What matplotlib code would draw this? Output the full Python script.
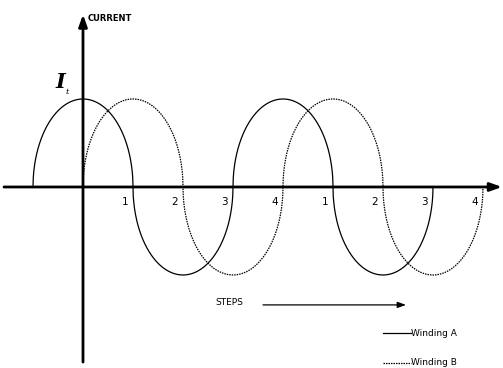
import numpy as np
import matplotlib
matplotlib.use("Agg")
import matplotlib.pyplot as plt

# winding currents, in step units (one step = quarter period)
windings = ["Winding A", "Winding B"]
start_steps = [-1, 0]
end_steps = [7, 8]
phase_steps = [0, 1]          # B lags A by one step
amplitude = 1.0
step_labels = ["1", "2", "3", "4", "1", "2", "3", "4"]
label_steps = [1, 2, 3, 4, 5, 6, 7, 8]

fig = plt.figure(figsize=(5.03, 3.68), dpi=100)
ax = fig.add_axes([0, 0, 1, 1])
ax.set_xlim(-1.66, 8.4)
ax.set_ylim(-2.057, 2.125)
ax.axis("off")

styles = [dict(color="black", lw=0.9, ls="-"),
          dict(color="black", lw=0.9, ls=(0, (1.2, 0.8)))]


def lobes(t, phase):
    # drawn as rounded half-ellipses, as in the sketch
    c = np.cos((t - phase) * np.pi / 2)
    u = ((t - phase + 1) % 2) - 1
    return np.sign(c) * amplitude * np.sqrt(np.clip(1 - u ** 2, 0, 1))


for i in range(len(windings)):
    t = np.linspace(start_steps[i], end_steps[i], 1601)
    ax.plot(t, lobes(t, phase_steps[i]), **styles[i])

# axes with arrows
ax.annotate("", xy=(8.38, 0), xytext=(-1.58, 0),
            arrowprops=dict(arrowstyle="-|>,head_length=0.7,head_width=0.25",
                            color="black", lw=2, shrinkA=0, shrinkB=0))
ax.annotate("", xy=(0, 1.96), xytext=(0, -1.99),
            arrowprops=dict(arrowstyle="-|>,head_length=0.7,head_width=0.25",
                            color="black", lw=2, shrinkA=0, shrinkB=0))

ax.text(0.1, 1.92, "CURRENT", fontsize=6, fontweight="bold", va="center", ha="left")
ax.text(-0.46, 1.19, "I", fontsize=15, family="DejaVu Serif", style="italic",
        fontweight="bold", ha="center", va="center")
ax.text(-0.31, 1.08, "t", fontsize=6, family="DejaVu Serif", style="italic",
        ha="center", va="center")

for s, lab in zip(label_steps, step_labels):
    ax.text(s - 0.1, -0.17, lab, fontsize=7.5, ha="right", va="center")

# steps arrow
ax.text(2.64, -1.31, "STEPS", fontsize=6.5, ha="left", va="center")
ax.annotate("", xy=(6.46, -1.34), xytext=(3.6, -1.34),
            arrowprops=dict(arrowstyle="-|>,head_length=0.5,head_width=0.18",
                            color="black", lw=0.9, shrinkA=0, shrinkB=0))

# legend drawn by hand
leg_y = [-1.66, -2.0]
for i in range(len(windings)):
    ax.plot([6.0, 6.56], [leg_y[i], leg_y[i]], **styles[i])
    ax.text(6.56, leg_y[i], windings[i], fontsize=6.5, ha="left", va="center")

fig.savefig("out.png", dpi=100)
